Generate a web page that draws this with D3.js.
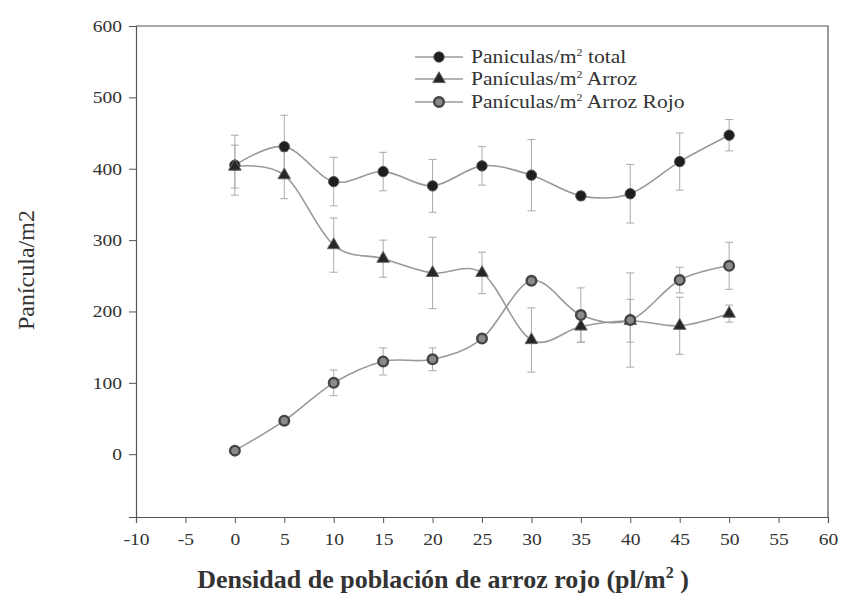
<!DOCTYPE html>
<html>
<head>
<meta charset="utf-8">
<script src="https://cdn.jsdelivr.net/npm/d3@7"></script>
<style>
  html, body { margin: 0; padding: 0; background: #fff; }
  svg { display: block; }
  text { font-family: "Liberation Serif", "Times New Roman", serif; fill: #333; }
</style>
</head>
<body>
<svg id="chart" width="846" height="596"></svg>
<script>
// Red rice density (pl/m²) on the x axis
const density = [0, 5, 10, 15, 20, 25, 30, 35, 40, 45, 50];

// Panicles per m², mean and error
const totalMean = [405, 431, 382, 396, 376, 404, 391, 362, 365, 410, 447];
const totalErr  = [42, 44, 34, 27, 37, 27, 50, 6, 41, 40, 22];
const arrozMean = [403, 391, 293, 274, 254, 254, 160, 179, 187, 180, 197];
const arrozErr  = [30, 33, 38, 26, 50, 29, 45, 22, 30, 40, 12];
const rojoMean  = [5, 47, 100, 130, 133, 162, 243, 195, 188, 244, 264];
const rojoErr   = [0, 0, 18, 19, 16, 0, 0, 38, 66, 18, 33];

const xTicks = [-10, -5, 0, 5, 10, 15, 20, 25, 30, 35, 40, 45, 50, 55, 60];
const yTicks = [0, 100, 200, 300, 400, 500, 600];

const seriesNames = ["Paniculas/m", "Panículas/m", "Panículas/m"];
const seriesSuffix = [" total", " Arroz", " Arroz Rojo"];

const svg = d3.select("#chart");

const x = d3.scaleLinear().domain([-10, 60]).range([136, 828]);
const y = d3.scaleLinear().domain([-88, 600]).range([517, 26]);

const axisColor = "#555";
const lineColor = "#999";
const barColor = "#aaa";
const stretch = 1.15; // horizontal text widening

// Frame (top and right edges)
svg.append("path")
  .attr("d", `M${x(-10)},${y(600)}H${x(60)}V${y(-88)}`)
  .attr("fill", "none").attr("stroke", axisColor).attr("stroke-width", 1.2);

// Axes
const xAxis = svg.append("g").attr("transform", `translate(0,${y(-88)})`)
  .call(d3.axisBottom(x).tickValues(xTicks).tickSize(6).tickPadding(10).tickFormat(d => String(d)));
const yAxis = svg.append("g").attr("transform", `translate(${x(-10)},0)`)
  .call(d3.axisLeft(y).tickValues(yTicks).tickSize(7).tickPadding(0).tickFormat(d => String(d)));
[xAxis, yAxis].forEach(g => {
  g.attr("font-family", null);
  g.select(".domain").attr("stroke", axisColor).attr("stroke-width", 1.2);
  g.selectAll(".tick line").attr("stroke", axisColor).attr("stroke-width", 1);
  g.selectAll(".tick text").attr("font-size", 17).attr("fill", "#333");
});
xAxis.selectAll(".tick text").attr("transform", `scale(${stretch},1)`);
yAxis.selectAll(".tick text").attr("x", 0)
  .attr("transform", `translate(-14,0) scale(${stretch},1)`);

// Axis titles
svg.append("text")
  .attr("transform", `translate(34,${y(300) + 30}) rotate(-90)`)
  .attr("text-anchor", "middle")
  .attr("font-size", 24)
  .text("Panícula/m2");

const xt = svg.append("text")
  .attr("x", 443).attr("y", 588)
  .attr("text-anchor", "middle")
  .attr("font-size", 26).attr("font-weight", "bold");
xt.append("tspan").text("Densidad de población de arroz rojo (pl/m");
xt.append("tspan").attr("dy", -10).attr("font-size", 16).text("2");
xt.append("tspan").attr("dy", 10).text(" )");

const series = [
  { mean: totalMean, err: totalErr, marker: "total" },
  { mean: arrozMean, err: arrozErr, marker: "arroz" },
  { mean: rojoMean,  err: rojoErr,  marker: "rojo" }
];

// Error bars
const cap = 4;
series.forEach(s => {
  const g = svg.append("g").attr("stroke", barColor).attr("stroke-width", 1);
  density.forEach((d, i) => {
    if (!s.err[i]) return;
    const cx = x(d), y1 = y(s.mean[i] + s.err[i]), y2 = y(s.mean[i] - s.err[i]);
    g.append("line").attr("x1", cx).attr("x2", cx).attr("y1", y1).attr("y2", y2);
    g.append("line").attr("x1", cx - cap).attr("x2", cx + cap).attr("y1", y1).attr("y2", y1);
    g.append("line").attr("x1", cx - cap).attr("x2", cx + cap).attr("y1", y2).attr("y2", y2);
  });
});

// Smoothed lines
const line = d3.line()
  .x((d, i) => x(density[i]))
  .y(d => y(d))
  .curve(d3.curveCardinal.tension(0));
series.forEach(s => {
  svg.append("path").datum(s.mean)
    .attr("d", line)
    .attr("fill", "none").attr("stroke", lineColor).attr("stroke-width", 1.6);
});

// Markers
function drawMarker(g, type, cx, cy) {
  if (type === "total") {
    g.append("circle").attr("cx", cx).attr("cy", cy).attr("r", 5.2)
      .attr("fill", "#1e1e1e").attr("stroke", "#555").attr("stroke-width", 1);
  } else if (type === "arroz") {
    const tri = d3.symbol().type(d3.symbolTriangle).size(68);
    g.append("path").attr("d", tri()).attr("transform", `translate(${cx},${cy})`)
      .attr("fill", "#262626").attr("stroke", "#666").attr("stroke-width", 1);
  } else {
    g.append("circle").attr("cx", cx).attr("cy", cy).attr("r", 4.8)
      .attr("fill", "#8a8a8a").attr("stroke", "#444").attr("stroke-width", 2.4);
  }
}
series.forEach(s => {
  const g = svg.append("g");
  density.forEach((d, i) => drawMarker(g, s.marker, x(d), y(s.mean[i])));
});

// Legend
const legendY = [57, 79, 102];
series.forEach((s, k) => {
  const ly = legendY[k];
  svg.append("line").attr("x1", 415).attr("x2", 463).attr("y1", ly).attr("y2", ly)
    .attr("stroke", lineColor).attr("stroke-width", 1.6);
  drawMarker(svg, s.marker, 439, ly);
  const t = svg.append("text")
    .attr("transform", `translate(471,${ly + 6}) scale(1.2,1)`)
    .attr("font-size", 18);
  t.append("tspan").text(seriesNames[k]);
  t.append("tspan").attr("dy", -7).attr("font-size", 10).text("2");
  t.append("tspan").attr("dy", 7).text(seriesSuffix[k]);
});
</script>
</body>
</html>
